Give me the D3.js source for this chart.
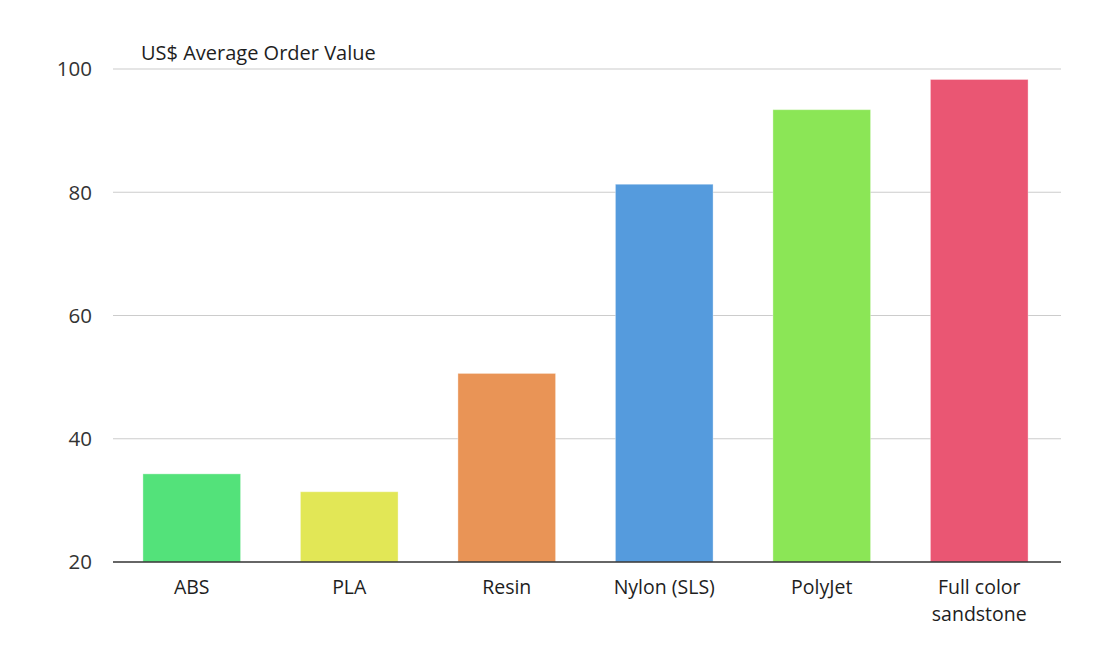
<!DOCTYPE html>
<html><head><meta charset="utf-8">
<script src="https://cdn.jsdelivr.net/npm/d3@7"></script>
<style>
html,body{margin:0;padding:0;background:#fff;}
text{font-family:"Open Sans", Lato, sans-serif;fill:#1e1e1e;}
</style></head>
<body><svg id="chart" width="1108" height="664"></svg>
<script>
const categories = ["ABS", "PLA", "Resin", "Nylon (SLS)", "PolyJet", "Full color\nsandstone"];
const values = [34.3, 31.4, 50.6, 81.3, 93.4, 98.3];
const colors = ["#53e27a", "#e2e756", "#e99456", "#559bdd", "#8be656", "#ea5673"];
const yTicks = [20, 40, 60, 80, 100];
const title = "US$ Average Order Value";

const svg = d3.select("#chart");
const m = {left:113, right:1061, top:69, bottom:562};
const x = d3.scaleBand().domain(categories).range([m.left, 1058]).paddingInner(0.38).paddingOuter(0.19);
const y = d3.scaleLinear().domain([20, 100]).range([m.bottom, m.top]);

// gridlines
svg.append("g").selectAll("line").data(yTicks.slice(1)).join("line")
  .attr("x1", m.left).attr("x2", m.right)
  .attr("y1", d => y(d)).attr("y2", d => y(d))
  .attr("stroke", "#cccccc").attr("stroke-width", 1.2);

// y tick labels
svg.append("g").selectAll("text").data(yTicks).join("text")
  .attr("x", 92).attr("y", d => y(d)).attr("dy", "0.36em")
  .attr("text-anchor", "end").attr("font-size", 20.5).style("fill", "#333").text(d => d);

// bars
svg.append("g").selectAll("rect").data(values).join("rect")
  .attr("x", (d,i) => x(categories[i])).attr("width", x.bandwidth())
  .attr("y", d => y(d)).attr("height", d => y(20) - y(d))
  .attr("fill", (d,i) => colors[i])
  .attr("stroke", "#ffffff").attr("stroke-opacity", 0.35).attr("stroke-width", 1);

// baseline
svg.append("line").attr("x1", m.left).attr("x2", m.right)
  .attr("y1", y(20)).attr("y2", y(20)).attr("stroke", "#333").attr("stroke-width", 1.5);

// x labels
const xl = svg.append("g").selectAll("text").data(categories).join("text")
  .attr("x", d => x(d) + x.bandwidth()/2).attr("y", 594)
  .attr("text-anchor", "middle").attr("font-size", 19.5);
xl.each(function(d){
  const parts = d.split("\n");
  d3.select(this).selectAll("tspan").data(parts).join("tspan")
    .attr("x", x(d) + x.bandwidth()/2).attr("dy", (p,j) => j === 0 ? 0 : 27).text(p => p);
});

// title
svg.append("text").attr("x", 141).attr("y", 60).attr("font-size", 20).text(title);
</script></body></html>
